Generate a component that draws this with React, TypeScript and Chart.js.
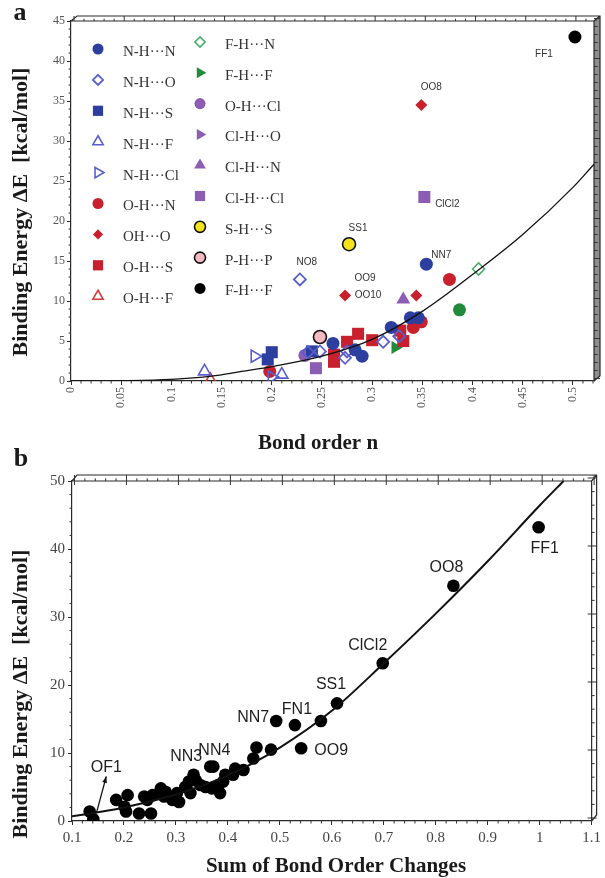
import React, { useEffect, useRef } from 'react';
import { Chart, registerables } from 'chart.js';

Chart.register(...registerables);

const SERIF = '"Liberation Serif", "Times New Roman", Times, serif';
const SANS = '"Liberation Sans", Arial, Helvetica, sans-serif';

type P = [number, number];

// ---------------- Panel a : binding energy vs bond order n ----------------
const nhnA: P[] = [[0.354, 14.6], [0.338, 7.9], [0.346, 7.9], [0.319, 6.7], [0.261, 4.7], [0.283, 3.9], [0.29, 3.1]];
const nhoA: P[] = [[0.228, 12.7], [0.236, 3.6], [0.248, 3.7], [0.275, 3.7], [0.273, 2.9], [0.311, 4.9], [0.327, 5.6]];
const nhsA: P[] = [[0.2, 3.6], [0.196, 2.7], [0.24, 3.7]];
const nhfA: P[] = [[0.133, 1.2], [0.21, 0.8]];
const nhclA: P[] = [[0.183, 3.1], [0.2, 0.5]];
const ohnA: P[] = [[0.377, 12.7], [0.349, 7.4], [0.341, 6.7], [0.198, 1.2]];
const ohoA: P[] = [[0.349, 34.5], [0.273, 10.7], [0.344, 10.7]];
const ohsA: P[] = [[0.262, 3.3], [0.262, 2.4], [0.275, 4.9], [0.286, 5.9], [0.3, 5.1], [0.328, 6.3], [0.331, 5.0]];
const ohfA: P[] = [[0.139, 0.1]];
const fhnA: P[] = [[0.406, 14.0]];
const fhfGreenA: P[] = [[0.323, 4.2]];
const ohclA: P[] = [[0.233, 3.2]];
const clhoA: P[] = [];
const clhnA: P[] = [[0.331, 10.2]];
const clhclA: P[] = [[0.352, 23.0], [0.244, 1.6]];
const shsA: P[] = [[0.277, 17.1]];
const phpA: P[] = [[0.248, 5.5]];
const fhfBlackA: P[] = [[0.502, 43.0]];
const otherGreenA: P[] = [[0.387, 8.9]];

const curveAx = [0, 0.05, 0.1, 0.14, 0.17, 0.2, 0.25, 0.3, 0.35, 0.4, 0.45, 0.5, 0.521];
const curveAy = [0, 0.04, 0.2, 0.6, 1.2, 1.8, 3.1, 5.2, 8.7, 13.3, 18.3, 24.2, 27.1];

const annAText = ['FF1', 'OO8', 'ClCl2', 'SS1', 'NO8', 'NN7', 'OO9', 'OO10'];
const annAX = [0.502, 0.349, 0.352, 0.277, 0.228, 0.354, 0.273, 0.273];
const annAY = [43.0, 34.5, 23.0, 17.1, 12.7, 14.6, 10.7, 10.7];

// ---------------- Panel b : binding energy vs sum of bond order changes ----------------
const bondSumB = [0.134, 0.141, 0.185, 0.201, 0.204, 0.207, 0.229, 0.239, 0.245, 0.252, 0.255, 0.271, 0.277, 0.28,
  0.293, 0.302, 0.306, 0.318, 0.325, 0.328, 0.334, 0.338, 0.347, 0.357, 0.366, 0.372, 0.369, 0.382, 0.385, 0.391,
  0.395, 0.41, 0.414, 0.43, 0.449, 0.455, 0.483, 0.493, 0.529, 0.541, 0.579, 0.61, 0.698, 0.834, 0.998];
const energyB = [1.4, 0.25, 3.1, 2.1, 1.4, 3.8, 1.1, 3.6, 3.1, 1.1, 3.8, 4.8, 3.6, 4.3,
  3.1, 4.1, 2.8, 5.0, 5.8, 4.1, 6.8, 6.0, 5.3, 5.0, 8.0, 8.0, 4.8, 5.3, 4.1, 5.8,
  6.8, 6.8, 7.7, 7.5, 9.2, 10.8, 10.5, 14.7, 14.1, 10.7, 14.7, 17.3, 23.2, 34.6, 43.2];

const curveBx = [0.1, 0.15, 0.2, 0.3, 0.4, 0.5, 0.6, 0.7, 0.8, 0.9, 1.0, 1.046];
const curveBy = [0.7, 1.3, 2.0, 3.9, 6.7, 10.8, 16.2, 23.2, 30.5, 38.2, 46.4, 50];

const annBText = ['FF1', 'OO8', 'ClCl2', 'SS1', 'FN1', 'NN7', 'NN3', 'NN4', 'OO9', 'OF1'];
const annBX = [0.998, 0.834, 0.698, 0.61, 0.529, 0.493, 0.366, 0.372, 0.541, 0.141];
const annBY = [43.2, 34.6, 23.2, 17.3, 14.1, 14.7, 8.0, 8.0, 10.7, 0.25];

// ---------------- styles (kept apart from the data) ----------------
const BLUE = '#2c3f9f';
const LAV = '#5a5ecb';
const RED = '#c8202c';
const GREEN = '#1f8b3b';
const LGREEN = '#4caa6a';
const PURPLE = '#8b5db3';
const NONE = 'rgba(255,255,255,0)';

interface Series { label: string; data: P[]; style: string; rot: number; r: number; fill: string; stroke: string; lw: number; }

const seriesA: Series[] = [
  { label: 'N-H···N', data: nhnA, style: 'circle', rot: 0, r: 6.5, fill: BLUE, stroke: BLUE, lw: 0 },
  { label: 'N-H···O', data: nhoA, style: 'rectRot', rot: 0, r: 6, fill: NONE, stroke: LAV, lw: 1.8 },
  { label: 'N-H···S', data: nhsA, style: 'rect', rot: 0, r: 8.5, fill: BLUE, stroke: BLUE, lw: 0 },
  { label: 'N-H···F', data: nhfA, style: 'triangle', rot: 0, r: 7, fill: NONE, stroke: LAV, lw: 1.6 },
  { label: 'N-H···Cl', data: nhclA, style: 'triangle', rot: 90, r: 7, fill: NONE, stroke: LAV, lw: 1.6 },
  { label: 'O-H···N', data: ohnA, style: 'circle', rot: 0, r: 6.5, fill: RED, stroke: RED, lw: 0 },
  { label: 'OH···O', data: ohoA, style: 'rectRot', rot: 0, r: 6, fill: RED, stroke: RED, lw: 0 },
  { label: 'O-H···S', data: ohsA, style: 'rect', rot: 0, r: 8.5, fill: RED, stroke: RED, lw: 0 },
  { label: 'O-H···F', data: ohfA, style: 'triangle', rot: 0, r: 7, fill: NONE, stroke: '#d33a3a', lw: 1.6 },
  { label: 'F-H···N', data: fhnA, style: 'rectRot', rot: 0, r: 6, fill: NONE, stroke: LGREEN, lw: 1.6 },
  { label: 'F-H···F', data: fhfGreenA, style: 'triangle', rot: 90, r: 7.5, fill: GREEN, stroke: GREEN, lw: 0 },
  { label: 'O-H···Cl', data: ohclA, style: 'circle', rot: 0, r: 6.5, fill: PURPLE, stroke: PURPLE, lw: 0 },
  { label: 'Cl-H···O', data: clhoA, style: 'triangle', rot: 90, r: 7.5, fill: PURPLE, stroke: PURPLE, lw: 0 },
  { label: 'Cl-H···N', data: clhnA, style: 'triangle', rot: 0, r: 8, fill: PURPLE, stroke: PURPLE, lw: 0 },
  { label: 'Cl-H···Cl', data: clhclA, style: 'rect', rot: 0, r: 8.5, fill: PURPLE, stroke: PURPLE, lw: 0 },
  { label: 'S-H···S', data: shsA, style: 'circle', rot: 0, r: 6.5, fill: '#f4e21c', stroke: '#111', lw: 1.6 },
  { label: 'P-H···P', data: phpA, style: 'circle', rot: 0, r: 6.5, fill: '#f5b9c3', stroke: '#111', lw: 1.6 },
  { label: 'F-H···F', data: fhfBlackA, style: 'circle', rot: 0, r: 6.5, fill: '#000', stroke: '#000', lw: 0 },
  { label: 'F-H···Cl', data: otherGreenA, style: 'circle', rot: 0, r: 6.5, fill: GREEN, stroke: GREEN, lw: 0 },
];

const legendCol1 = [0, 1, 2, 3, 4, 5, 6, 7, 8];
const legendCol2 = [9, 10, 11, 12, 13, 14, 15, 16, 17];

const annAOff: P[] = [[-31, 17], [10, -18], [23, 7], [9, -16], [7, -17], [15, -9], [20, -17], [23, 0]];
const annBOff: P[] = [[6, 21], [-7, -18], [-15, -18], [-6, -19], [2, -16], [-23, -3], [-24, -10], [1, -16], [30, 2], [13, -52]];

// ---------------- helpers ----------------
function fmt(v: number) { return String(Math.round(v * 1000) / 1000); }
function range(min: number, max: number, step: number) {
  const out: number[] = [];
  const n = Math.floor((max - min) / step + 1e-6);
  for (let i = 0; i <= n; i++) out.push(min + i * step);
  return out;
}
function isMult(v: number, step: number) { const q = v / step; return Math.abs(q - Math.round(q)) < 1e-6; }

function shapePath(ctx: CanvasRenderingContext2D, style: string, rot: number, x: number, y: number, r: number) {
  ctx.beginPath();
  if (style === 'circle') ctx.arc(x, y, r, 0, Math.PI * 2);
  else if (style === 'rect') { const s = r * Math.SQRT1_2; ctx.rect(x - s, y - s, 2 * s, 2 * s); }
  else if (style === 'rectRot') { ctx.moveTo(x, y - r); ctx.lineTo(x + r, y); ctx.lineTo(x, y + r); ctx.lineTo(x - r, y); ctx.closePath(); }
  else {
    let a = (rot * Math.PI) / 180;
    for (let i = 0; i < 3; i++) {
      const px = x + Math.sin(a) * r, py = y - Math.cos(a) * r;
      if (i === 0) ctx.moveTo(px, py); else ctx.lineTo(px, py);
      a += (2 * Math.PI) / 3;
    }
    ctx.closePath();
  }
}
function paintMarker(ctx: CanvasRenderingContext2D, s: Series, x: number, y: number, k: number) {
  shapePath(ctx, s.style, s.rot, x, y, s.r * k);
  ctx.fillStyle = s.fill; ctx.fill();
  if (s.lw > 0) { ctx.strokeStyle = s.stroke; ctx.lineWidth = s.lw; ctx.stroke(); }
}

function drawBox(chart: any, o: any) {
  const { ctx, chartArea: ca } = chart;
  const xs = chart.scales.x, ys = chart.scales.y;
  const L = ca.left, R = ca.right, T = ca.top, B = ca.bottom;
  const dx = o.dx, dy = o.dy;
  ctx.save();
  if (o.sideFill) {
    ctx.fillStyle = o.sideFill;
    ctx.beginPath();
    ctx.moveTo(R, T); ctx.lineTo(R + dx, T - dy); ctx.lineTo(R + dx, B - dy); ctx.lineTo(R, B); ctx.closePath();
    ctx.fill();
  }
  ctx.strokeStyle = o.line; ctx.lineWidth = 1.2;
  ctx.beginPath();
  ctx.moveTo(L, T); ctx.lineTo(R, T); ctx.lineTo(R, B);
  ctx.moveTo(L, T); ctx.lineTo(L + dx, T - dy); ctx.lineTo(R + dx, T - dy); ctx.lineTo(R + dx, B - dy); ctx.lineTo(R, B);
  ctx.moveTo(R, T); ctx.lineTo(R + dx, T - dy);
  ctx.stroke();
  ctx.lineWidth = 1; ctx.strokeStyle = o.tick;
  ctx.beginPath();
  for (const v of range(o.xMin, o.xMax, o.xMinor)) {
    const p = xs.getPixelForValue(v);
    if (p < L - 0.5 || p > R + 0.5) continue;
    const maj = isMult(v, o.xMajor);
    if (!maj) { ctx.moveTo(p, B); ctx.lineTo(p, B + 2.5); }
    const tp = p + dx * 0.5;
    if (maj) { ctx.moveTo(tp, T - dy); ctx.lineTo(tp, T + o.inward); }
    else { ctx.moveTo(tp, T - dy * 0.45); ctx.lineTo(tp, T); }
  }
  for (const v of range(o.yMin, o.yMax, o.yMinor)) {
    const p = ys.getPixelForValue(v);
    if (p < T - 0.5 || p > B + 0.5) continue;
    const maj = isMult(v, o.yMajor);
    if (!maj) { ctx.moveTo(L - 2.5, p); ctx.lineTo(L, p); }
    const rp = p - dy * 0.5;
    if (maj) { ctx.moveTo(R - o.inward, rp); ctx.lineTo(R + dx, rp); }
    else { ctx.moveTo(R, rp); ctx.lineTo(R + dx * 0.6, rp); }
  }
  ctx.stroke();
  ctx.restore();
}

function drawYTitle(ctx: CanvasRenderingContext2D, cy: number) {
  ctx.save();
  ctx.translate(27, cy);
  ctx.rotate(-Math.PI / 2);
  ctx.font = `bold 22px ${SERIF}`;
  ctx.fillStyle = '#1a1a1a';
  ctx.textAlign = 'center';
  ctx.textBaseline = 'alphabetic';
  ctx.fillText('Binding Energy \u0394E  [kcal/mol]', 0, 0);
  ctx.restore();
}

function axisCommon(min: number, max: number, step: number, size: number, color: string, fit: (s: any) => void, extra: any) {
  return {
    type: 'linear', min, max,
    afterFit: fit,
    border: { display: true, color: '#2a2a2a', width: 1.2 },
    grid: { display: true, drawOnChartArea: false, drawTicks: true, tickLength: 4, color: '#2a2a2a', lineWidth: 1 },
    ticks: { stepSize: step, autoSkip: false, color, font: { family: SERIF, size }, callback: (v: any) => fmt(Number(v)), ...extra },
  };
}

function configA(): any {
  const datasets: any[] = seriesA.map((s) => ({
    label: s.label,
    data: s.data.map(([x, y]) => ({ x, y })),
    pointStyle: s.style, pointRotation: s.rot, pointRadius: s.r, pointHoverRadius: s.r,
    pointBackgroundColor: s.fill, pointBorderColor: s.stroke, pointBorderWidth: s.lw,
    showLine: false, order: 1,
  }));
  datasets.push({
    label: 'fit', data: curveAx.map((x, i) => ({ x, y: curveAy[i] })),
    showLine: true, pointRadius: 0, borderColor: '#111', borderWidth: 1.3, cubicInterpolationMode: 'monotone', order: 0,
  });
  const deco = {
    id: 'decoA',
    beforeDatasetsDraw(chart: any) {
      drawBox(chart, { dx: 6, dy: 5, sideFill: '#8d8d8d', line: '#2a2a2a', tick: '#333', inward: 0,
        xMin: 0, xMax: 0.521, xMinor: 0.01, xMajor: 0.05, yMin: 0, yMax: 45, yMinor: 1, yMajor: 5 });
    },
    afterDatasetsDraw(chart: any) {
      const { ctx } = chart;
      const xs = chart.scales.x, ys = chart.scales.y;
      ctx.save();
      ctx.font = `15px ${SERIF}`; ctx.fillStyle = '#333'; ctx.textBaseline = 'middle'; ctx.textAlign = 'left';
      legendCol1.forEach((si, i) => {
        const y = 49 + i * 30.9;
        paintMarker(ctx, seriesA[si], 98, y, 0.85);
        ctx.fillStyle = '#333'; ctx.fillText(seriesA[si].label, 123, y + 3);
      });
      legendCol2.forEach((si, i) => {
        const y = 42 + i * 30.8;
        paintMarker(ctx, seriesA[si], 200, y, 0.85);
        ctx.fillStyle = '#333'; ctx.fillText(seriesA[si].label, 225, y + 3);
      });
      ctx.font = `10px ${SANS}`; ctx.fillStyle = '#333'; ctx.textAlign = 'center';
      annAText.forEach((t, i) => {
        ctx.fillText(t, xs.getPixelForValue(annAX[i]) + annAOff[i][0], ys.getPixelForValue(annAY[i]) + annAOff[i][1]);
      });
      ctx.restore();
    },
    afterDraw(chart: any) {
      const { ctx } = chart;
      ctx.save();
      ctx.fillStyle = '#1a1a1a';
      ctx.font = `bold 26px ${SERIF}`; ctx.textAlign = 'center'; ctx.textBaseline = 'alphabetic';
      ctx.fillText('a', 20, 20);
      ctx.font = `bold 21px ${SERIF}`;
      ctx.fillText('Bond order n', 318, 449);
      ctx.restore();
      drawYTitle(ctx, 212);
    },
  };
  return {
    type: 'scatter',
    data: { datasets },
    options: {
      responsive: false, animation: false, events: [],
      layout: { padding: { left: 0, right: 11, top: 21, bottom: 441 } },
      plugins: { legend: { display: false }, tooltip: { enabled: false } },
      scales: {
        x: axisCommon(0, 0.521, 0.05, 12, '#555', (s: any) => { s.height = 56; },
          { includeBounds: false, minRotation: 90, maxRotation: 90, padding: 2 }),
        y: axisCommon(0, 45, 5, 12, '#555', (s: any) => { s.width = 71; }, { padding: 2 }),
      },
    },
    plugins: [deco],
  };
}

function configB(): any {
  const datasets: any[] = [
    {
      label: 'data', data: bondSumB.map((x, i) => ({ x, y: energyB[i] })),
      pointStyle: 'circle', pointRadius: 6.3, pointHoverRadius: 6.3, pointBackgroundColor: '#000', pointBorderColor: '#000',
      pointBorderWidth: 0, showLine: false, order: 1,
    },
    {
      label: 'fit', data: curveBx.map((x, i) => ({ x, y: curveBy[i] })),
      showLine: true, pointRadius: 0, borderColor: '#111', borderWidth: 2, cubicInterpolationMode: 'monotone', order: 0,
    },
  ];
  const deco = {
    id: 'decoB',
    beforeDatasetsDraw(chart: any) {
      drawBox(chart, { dx: 5, dy: 6, sideFill: null, line: '#2a2a2a', tick: '#333', inward: 4,
        xMin: 0.1, xMax: 1.1, xMinor: 0.02, xMajor: 0.1, yMin: 0, yMax: 50, yMinor: 2, yMajor: 10 });
    },
    afterDatasetsDraw(chart: any) {
      const { ctx } = chart;
      const xs = chart.scales.x, ys = chart.scales.y;
      ctx.save();
      ctx.font = `16px ${SANS}`; ctx.fillStyle = '#1e1e1e'; ctx.textAlign = 'center'; ctx.textBaseline = 'middle';
      annBText.forEach((t, i) => {
        ctx.fillText(t, xs.getPixelForValue(annBX[i]) + annBOff[i][0], ys.getPixelForValue(annBY[i]) + annBOff[i][1]);
      });
      // arrow from the OF1 point up to its label
      const i = annBText.indexOf('OF1');
      const px = xs.getPixelForValue(annBX[i]), py = ys.getPixelForValue(annBY[i]);
      const x0 = px + 3, y0 = py - 6, x1 = px + 13, y1 = py - 43;
      ctx.strokeStyle = '#111'; ctx.lineWidth = 1.3;
      ctx.beginPath(); ctx.moveTo(x0, y0); ctx.lineTo(x1, y1); ctx.stroke();
      const ang = Math.atan2(y1 - y0, x1 - x0);
      ctx.fillStyle = '#111';
      ctx.beginPath();
      ctx.moveTo(x1, y1);
      ctx.lineTo(x1 - 7 * Math.cos(ang - 0.35), y1 - 7 * Math.sin(ang - 0.35));
      ctx.lineTo(x1 - 7 * Math.cos(ang + 0.35), y1 - 7 * Math.sin(ang + 0.35));
      ctx.closePath(); ctx.fill();
      ctx.restore();
    },
    afterDraw(chart: any) {
      const { ctx } = chart;
      ctx.save();
      ctx.fillStyle = '#1a1a1a';
      ctx.font = `bold 26px ${SERIF}`; ctx.textAlign = 'center'; ctx.textBaseline = 'alphabetic';
      ctx.fillText('b', 21, 466);
      ctx.font = `bold 21px ${SERIF}`;
      ctx.fillText('Sum of Bond Order Changes', 336, 872);
      ctx.restore();
      drawYTitle(ctx, 694);
    },
  };
  return {
    type: 'scatter',
    data: { datasets },
    options: {
      responsive: false, animation: false, events: [],
      layout: { padding: { left: 0, right: 10, top: 481, bottom: 0 } },
      plugins: { legend: { display: false }, tooltip: { enabled: false } },
      scales: {
        x: axisCommon(0.1, 1.1, 0.1, 15, '#444', (s: any) => { s.height = 57; }, { maxRotation: 0, minRotation: 0, padding: 4 }),
        y: axisCommon(0, 50, 10, 15, '#444', (s: any) => { s.width = 72; }, { padding: 3 }),
      },
    },
    plugins: [deco],
  };
}

export default function App() {
  const refA = useRef<HTMLCanvasElement>(null);
  const refB = useRef<HTMLCanvasElement>(null);
  useEffect(() => {
    const a = new Chart(refA.current as HTMLCanvasElement, configA());
    const b = new Chart(refB.current as HTMLCanvasElement, configB());
    return () => { a.destroy(); b.destroy(); };
  }, []);
  return (
    <div style={{ position: 'fixed', left: 0, top: 0, width: 605, height: 878, background: '#fff' }}>
      <canvas ref={refA} width={605} height={878} style={{ position: 'absolute', left: 0, top: 0 }} />
      <canvas ref={refB} width={605} height={878} style={{ position: 'absolute', left: 0, top: 0 }} />
    </div>
  );
}
